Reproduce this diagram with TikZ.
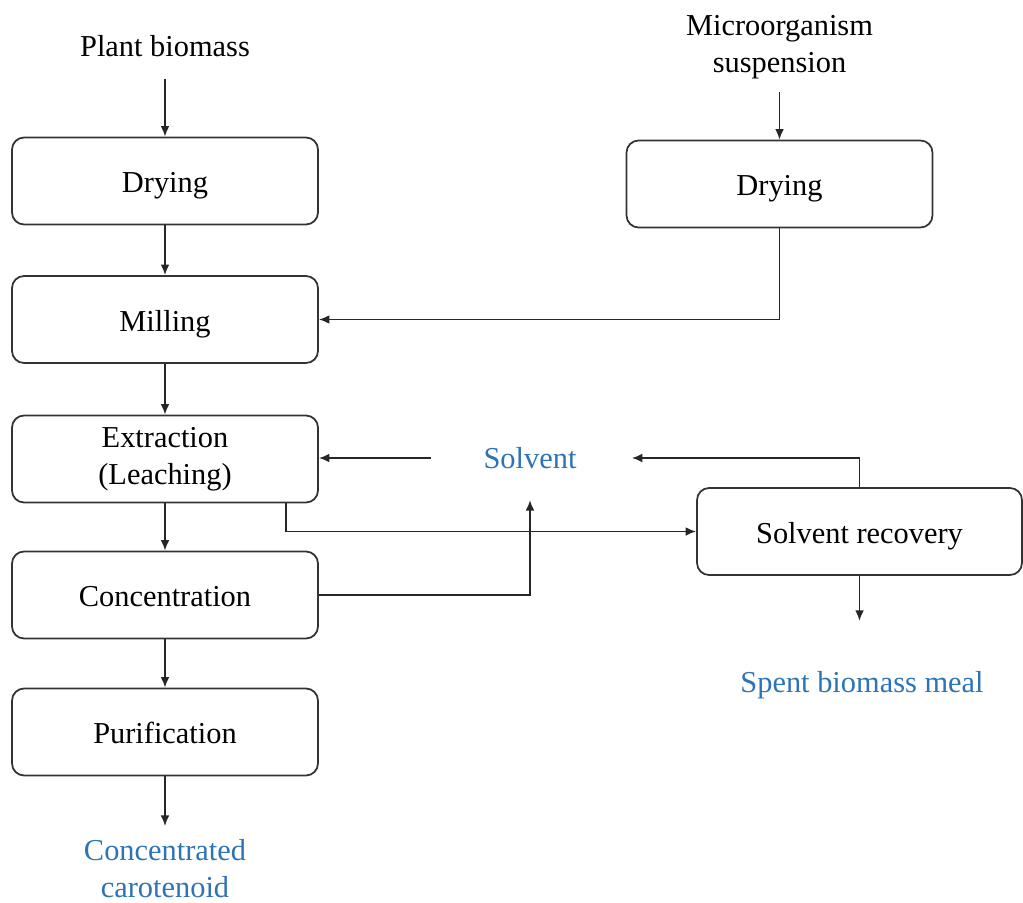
\documentclass[tikz,border=0pt]{standalone}
\usepackage{fontspec}
\setmainfont{Liberation Serif}
\usepackage{tikz}
\usetikzlibrary{arrows.meta}
\definecolor{outblue}{RGB}{46,116,181}

\begin{document}
\begin{tikzpicture}[x=0.02cm,y=-0.02cm,
  font=\fontsize{17.3}{21}\selectfont,
  stage/.style={draw=black!80,line width=1pt,rounded corners=0.24cm,
    minimum width=6.12cm,minimum height=1.74cm,align=center,inner sep=2pt},
  oneline/.style={stage,text height=16pt,text depth=2.5pt},
  lbl/.style={align=center,inner sep=0pt},
  prod/.style={lbl,text=outblue},
  arr/.style={draw=black!85,line width=1pt,-{Latex[length=6pt,width=5pt]}}]
 \useasboundingbox (0,0) rectangle (1023,902);

 \node[lbl] (plant) at (165,46) {Plant biomass};
 \node[lbl,anchor=north] (micro) at (779.5,15) {Microorganism\\suspension};
 \node[oneline] (dryA) at (165,181) {Drying};
 \node[oneline] (dryB) at (779.5,184) {Drying};
 \node[oneline] (mill) at (165,319.5) {Milling};
 \node[stage] (extr) at (165,459) {Extraction\\(Leaching)};
 \node[oneline] (conc) at (165,595) {Concentration};
 \node[oneline] (puri) at (165,732) {Purification};
 \node[prod,anchor=north] (carot) at (165,839) {Concentrated\\carotenoid};
 \node[prod] (solv) at (530,458) {Solvent};
 \node[oneline,minimum width=6.5cm] (recov) at (859.5,531.5) {Solvent recovery};
 \node[prod] (spent) at (862,685) {Spent biomass meal};

 \draw[arr,shorten <=0.44cm] (plant) -- (dryA);
 \draw[arr,shorten <=0.26cm] (micro.south) -- (dryB.north);
 \draw[arr] (dryA) -- (mill);
 \draw[arr] (dryB.south) |- (mill.east);
 \draw[arr] (mill) -- (extr);
 \draw[arr] (extr) -- (conc);
 \draw[arr] (conc) -- (puri);
 \draw[arr,shorten >=0.26cm] (puri.south) -- (carot.north);
 \draw[arr,shorten <=1.04cm] (solv.west) -- (extr.east |- solv.west);
 \draw[arr,shorten >=1.1cm] (recov.north) |- (solv.east);
 \draw[arr] ([xshift=-0.66cm]extr.south east) |- (recov.west);
 \draw[arr,shorten >=0.62cm] (conc.east) -| (solv.south);
 \draw[arr,shorten >=1.0cm] (recov.south) -- (spent.north -| recov.south);
\end{tikzpicture}
\end{document}
